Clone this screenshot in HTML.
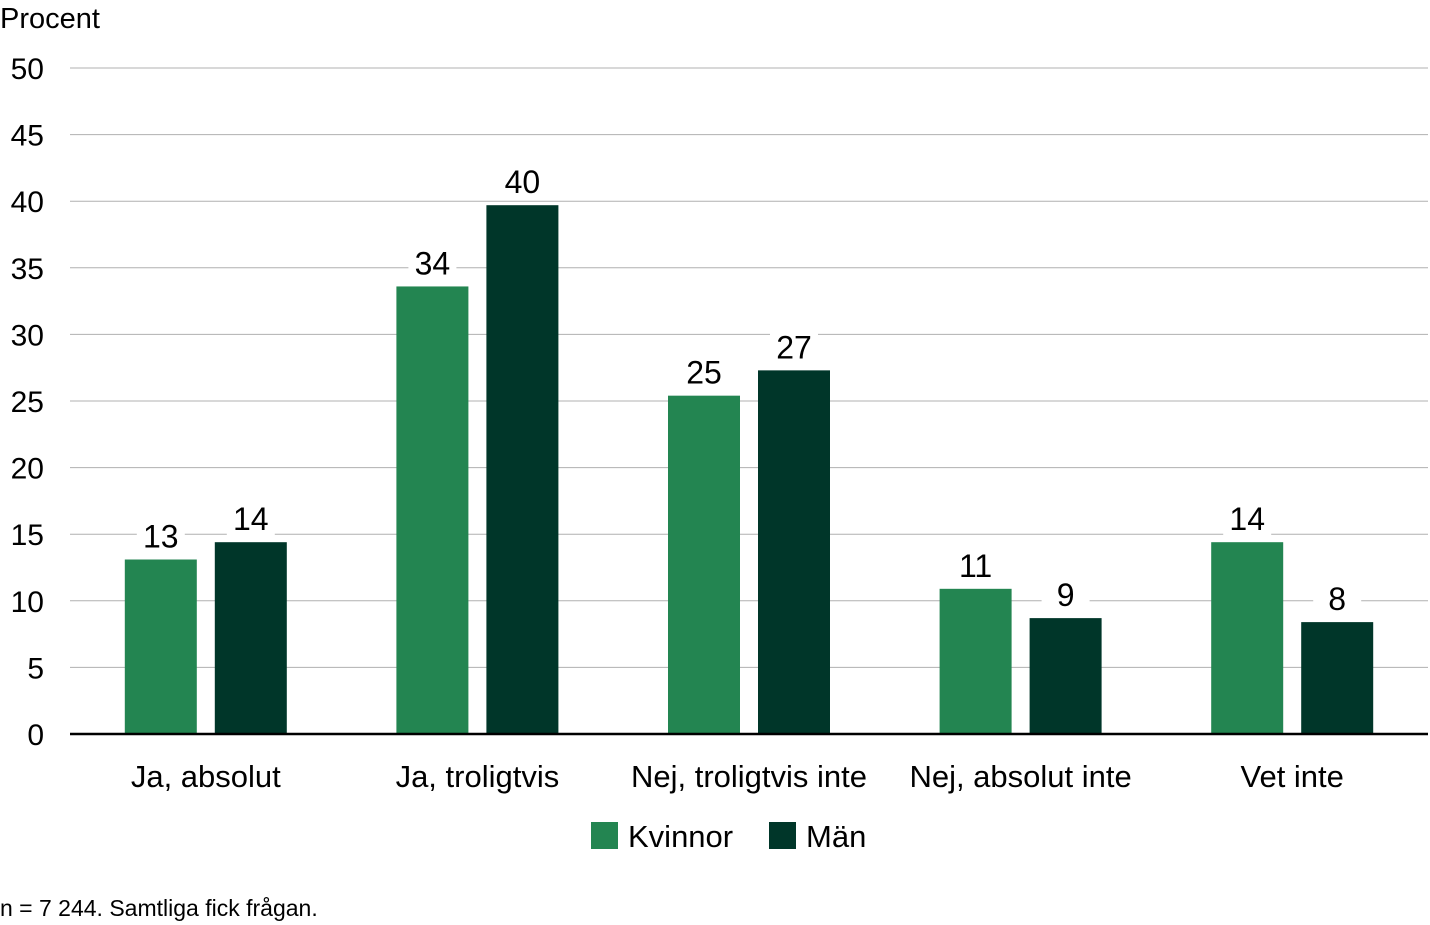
<!DOCTYPE html>
<html><head><meta charset="utf-8"><style>
html,body{margin:0;padding:0;background:#fff;}
svg{display:block;font-family:"Liberation Sans",sans-serif;}
</style></head><body>
<svg id="chart" width="1430" height="925"></svg>
<script>
const categories=["Ja, absolut","Ja, troligtvis","Nej, troligtvis inte","Nej, absolut inte","Vet inte"];
const kvinnor=[13.1,33.6,25.4,10.9,14.4];
const man=[14.4,39.7,27.3,8.7,8.4];
const kvinnorLabels=["13","34","25","11","14"];
const manLabels=["14","40","27","9","8"];
const yTicks=[0,5,10,15,20,25,30,35,40,45,50];
const seriesNames=["Kvinnor","Män"];
const colors=["#238551","#003629"];
const NS="http://www.w3.org/2000/svg";
const svg=document.getElementById("chart");
const x0=70,x1=1428,y0=734,y1=68;
const y=v=>y0-(v/50)*(y0-y1);
const gw=(x1-x0)/categories.length;
function mk(t,a,txt){const e=document.createElementNS(NS,t);for(const k in a)e.setAttribute(k,a[k]);if(txt!==undefined)e.textContent=txt;svg.appendChild(e);return e;}
let t=mk("text",{x:0,y:28,"font-size":29,fill:"#000"},"Procent");


yTicks.forEach(v=>{
 if(v>0){const l=mk("line",{x1:x0,x2:x1,y1:y(v),y2:y(v),stroke:"#b0b0b0","stroke-width":1});
 
 }
 const tx=mk("text",{x:44,y:y(v)+11,"font-size":30,"text-anchor":"end",fill:"#000"},String(v));
 
 
});
categories.forEach((c,i)=>{
 const cx=x0+gw*(i+0.5);
 [[kvinnor,kvinnorLabels,-1],[man,manLabels,1]].forEach(([arr,lab,s],j)=>{
  const bx=s<0?cx-81:cx+9;
  const r=mk("rect",{x:bx,y:y(arr[i]),width:72,height:y0-y(arr[i]),fill:colors[j]});
  
  
  const bg=mk("rect",{x:bx+36-24,y:y(arr[i])-40,width:48,height:34,fill:"#fff"});
  
  
  const vt=mk("text",{x:bx+36,y:y(arr[i])-12,"font-size":32,"text-anchor":"middle",fill:"#000"},lab[i]);
  
  
 });
 const ct=mk("text",{x:cx,y:787,"font-size":31,"text-anchor":"middle",fill:"#000"},c);
 
 
});
const ax=mk("line",{x1:x0,x2:x1,y1:y0,y2:y0,stroke:"#000","stroke-width":2.5});


[[591,"Kvinnor"],[769,"Män"]].forEach(([lx,n],j)=>{
 const s=mk("rect",{x:lx,y:822,width:27,height:27,fill:colors[j]});
 
 
 const lt=mk("text",{x:lx+37,y:847,"font-size":31,fill:"#000"},n);
 
 
});
const fn=mk("text",{x:0,y:916,"font-size":23,fill:"#000"},"n = 7 244. Samtliga fick frågan.");


</script>
</body></html>
